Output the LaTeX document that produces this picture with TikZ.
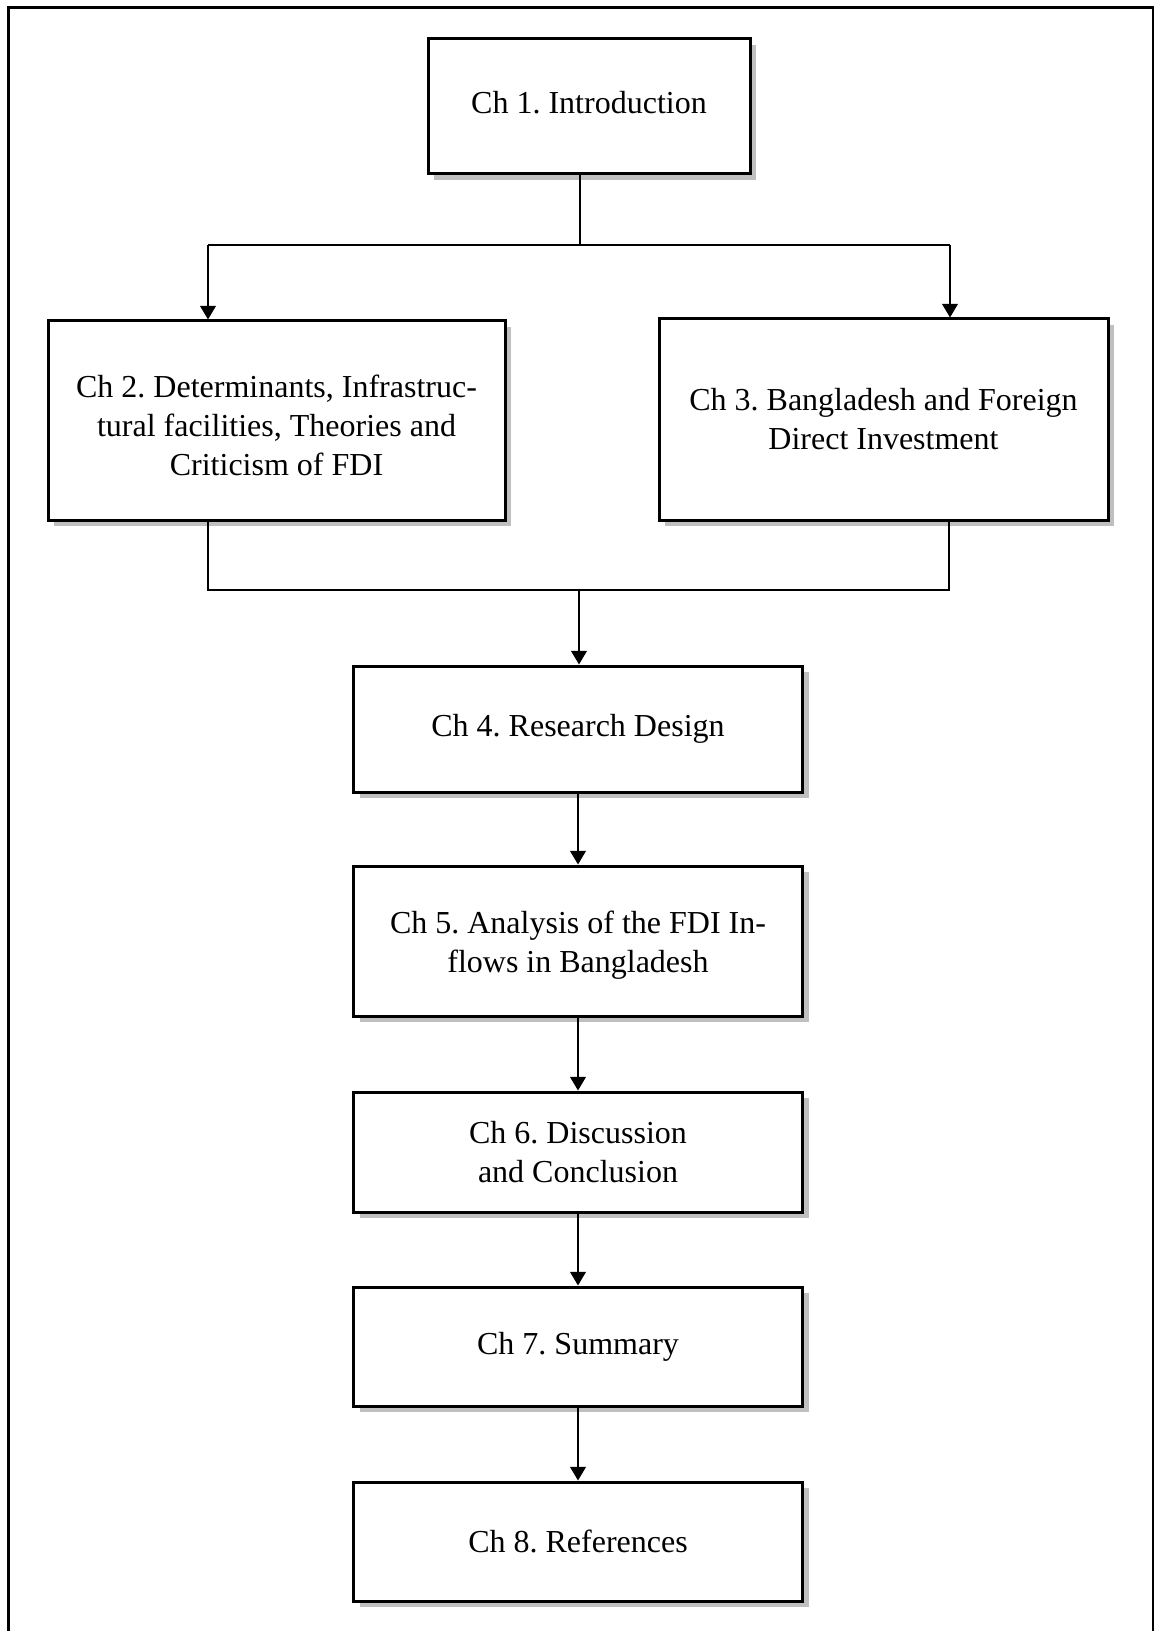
\documentclass[tikz,border=0pt]{standalone}
\usepackage{fontspec}
\setmainfont{Liberation Serif}
\frenchspacing
\usetikzlibrary{arrows.meta,shadows}
\begin{document}
\begin{tikzpicture}[x=0.5pt,y=-0.5pt,
  chbox/.style={draw=black, line width=1.5pt, fill=white,
    drop shadow={shadow xshift=3pt, shadow yshift=-3pt, fill=black!25, opacity=1}},
  txt/.style={align=center, inner sep=0pt, font=\fontsize{16pt}{19.5pt}\selectfont},
  conn/.style={line width=1pt},
  arr/.style={line width=1pt, -{Triangle[length=6.8pt,width=7.8pt]}}]
\useasboundingbox (0,0) rectangle (1154,1631);
\fill[white] (0,0) rectangle (1154,1631);
% frame
\draw[line width=1.5pt] (8,1631) -- (8,8) -- (1153,8) -- (1153,1631);
% boxes
\node[chbox, minimum width=161pt, minimum height=67.5pt] (b1) at (589,106.5) {};
\node[chbox, minimum width=228.5pt, minimum height=99.5pt] (b2) at (276.5,420.5) {};
\node[chbox, minimum width=224.5pt, minimum height=100.5pt] (b3) at (883.5,419.5) {};
\node[chbox, minimum width=224.5pt, minimum height=63pt] (b4) at (578,729) {};
\node[chbox, minimum width=224.5pt, minimum height=75pt] (b5) at (578,941) {};
\node[chbox, minimum width=224.5pt, minimum height=60pt] (b6) at (578,1152) {};
\node[chbox, minimum width=224.5pt, minimum height=59.5pt] (b7) at (578,1346.5) {};
\node[chbox, minimum width=224.5pt, minimum height=59.5pt] (b8) at (578,1541.5) {};
% texts
\node[txt] (t1) at ([yshift=2pt]b1.center) {Ch 1. Introduction};
\node[txt] (t2) at ([yshift=-2.5pt]b2.center) {Ch 2. Determinants, Infrastruc-\\tural facilities, Theories and\\Criticism of FDI};
\node[txt] (t3) at (b3.center) {Ch 3. Bangladesh and Foreign\\Direct Investment};
\node[txt] (t4) at (b4.center) {Ch 4. Research Design};
\node[txt] (t5) at ([yshift=-2pt]b5.center) {Ch 5. Analysis of the FDI In-\\flows in Bangladesh};
\node[txt] (t6) at (b6.center) {Ch 6. Discussion\\and Conclusion};
\node[txt] (t7) at (b7.center) {Ch 7. Summary};
\node[txt] (t8) at (b8.center) {Ch 8. References};
% junction coordinates
\coordinate (j) at (580,245);
\coordinate (jl) at (208,245);
\coordinate (jr) at (950,245);
\coordinate (k) at (579,590);
\coordinate (kl) at (208,590);
\coordinate (kr) at (949,590);
% connectors
\draw[conn] (b1.south -| j) -- (j);
\draw[conn] (jl) -- (jr);
\draw[arr] (jl) -- (jl |- b2.north);
\draw[arr] (jr) -- (jr |- b3.north);
\draw[conn] (kl |- b2.south) -- (kl) -- (kr) -- (kr |- b3.south);
\draw[arr] (k) -- (k |- b4.north);
\draw[arr] (b4.south) -- (b5.north);
\draw[arr] (b5.south) -- (b6.north);
\draw[arr] (b6.south) -- (b7.north);
\draw[arr] (b7.south) -- (b8.north);
\end{tikzpicture}
\end{document}
